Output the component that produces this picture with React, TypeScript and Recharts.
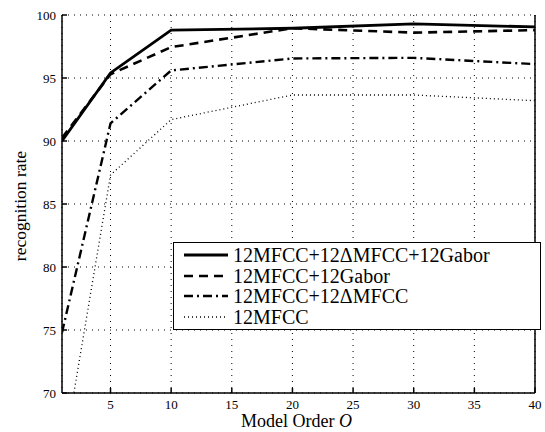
import * as React from 'react';
import {
    LineChart, Line, XAxis, YAxis, CartesianGrid
} from 'recharts';

const orders = [1, 5, 10, 20, 30, 40];
const fullSet = [90.0, 95.4, 98.8, 98.95, 99.3, 99.05];
const mfccGabor = [90.25, 95.3, 97.45, 98.95, 98.6, 98.8];
const mfccDelta = [74.8, 91.4, 95.6, 96.55, 96.6, 96.1];
const mfccOnly = [64.4, 87.3, 91.7, 93.65, 93.65, 93.2];

const xTicks = [5, 10, 15, 20, 25, 30, 35, 40];
const yTicks = [70, 75, 80, 85, 90, 95, 100];

const seriesNames = ['12MFCC+12\u0394MFCC+12Gabor', '12MFCC+12Gabor', '12MFCC+12\u0394MFCC', '12MFCC'];

const data = orders.map((o, i) => ({
    order: o,
    a: fullSet[i],
    b: mfccGabor[i],
    c: mfccDelta[i],
    d: mfccOnly[i]
}));

const styles = [
    { key: 'a', dash: undefined, width: 2.8 },
    { key: 'b', dash: '9 6', width: 2.6 },
    { key: 'c', dash: '9 4 2 4', width: 2.4 },
    { key: 'd', dash: '1 3', width: 1.3 }
];

const FONT = 'Liberation Serif, DejaVu Serif, serif';

const XLabel = (props: any) => {
    const vb = props.viewBox || {};
    const cx = (vb.x || 0) + (vb.width || 0) / 2;
    return (
        <text x={cx - 2} y={427} textAnchor="middle" fontSize={18} fill="#000" style={{ fontFamily: FONT }}>
            Model Order <tspan fontStyle="italic">O</tspan>
        </text>
    );
};

const YLabel = (props: any) => {
    const vb = props.viewBox || {};
    const cy = (vb.y || 0) + (vb.height || 0) / 2 + 2;
    return (
        <text x={20} y={cy} transform={`rotate(-90 20 ${cy})`} textAnchor="middle" dominantBaseline="central"
            fontSize={17.5} fill="#000" style={{ fontFamily: FONT }}>recognition rate</text>
    );
};

const LegendBox = () => (
    <div style={{
        position: 'absolute', left: 173, top: 242, width: 368, height: 88,
        border: '1.5px solid #000', background: '#fff', boxSizing: 'border-box',
        padding: '2px 0 0 9px', fontFamily: FONT, fontSize: 20, color: '#000'
    }}>
        {styles.map((s, i) => (
            <div key={s.key} style={{ display: 'flex', alignItems: 'center', height: 20.5 }}>
                <svg width={46} height={10} style={{ marginRight: 4 }}>
                    <line x1={1} y1={5} x2={45} y2={5} stroke="#000" strokeWidth={s.width} strokeDasharray={s.dash} />
                </svg>
                <span style={{ lineHeight: '20px' }}>{seriesNames[i]}</span>
            </div>
        ))}
    </div>
);

export default function App() {
    return (
        <div style={{ position: 'absolute', left: 0, top: 0, width: 545, height: 432, background: '#fff', fontFamily: FONT }}>
            <LineChart width={545} height={432} data={data} margin={{ top: 15, right: 5, bottom: 0, left: 0 }}
                style={{ fontFamily: FONT }}>
                <CartesianGrid stroke="#000" strokeDasharray="1 5" strokeWidth={1} />
                <XAxis dataKey="order" type="number" domain={[1, 40]} ticks={xTicks} allowDataOverflow
                    height={39} stroke="#000" strokeWidth={1.5} tickSize={-5} tickMargin={12}
                    tick={{ fontSize: 13, fill: '#000', style: { fontFamily: FONT } }}
                    label={<XLabel />} />
                <XAxis xAxisId="top" orientation="top" type="number" domain={[1, 40]} ticks={xTicks} height={0}
                    stroke="#000" strokeWidth={1.5} tickSize={-5} tickFormatter={() => ''} />
                <YAxis type="number" domain={[70, 100]} ticks={yTicks} allowDataOverflow width={62}
                    stroke="#000" strokeWidth={1.5} tickSize={-5} tickMargin={11}
                    tick={{ fontSize: 13, fill: '#000', style: { fontFamily: FONT } }}
                    label={<YLabel />} />
                <YAxis yAxisId="right" orientation="right" type="number" domain={[70, 100]} ticks={yTicks} width={5}
                    stroke="#000" strokeWidth={1.5} tickSize={-5} tickFormatter={() => ''} />
                {styles.map(s => (
                    <Line key={s.key} dataKey={s.key} type="linear" stroke="#000" strokeWidth={s.width}
                        strokeDasharray={s.dash} dot={false} isAnimationActive={false} />
                ))}
            </LineChart>
            <LegendBox />
        </div>
    );
}
